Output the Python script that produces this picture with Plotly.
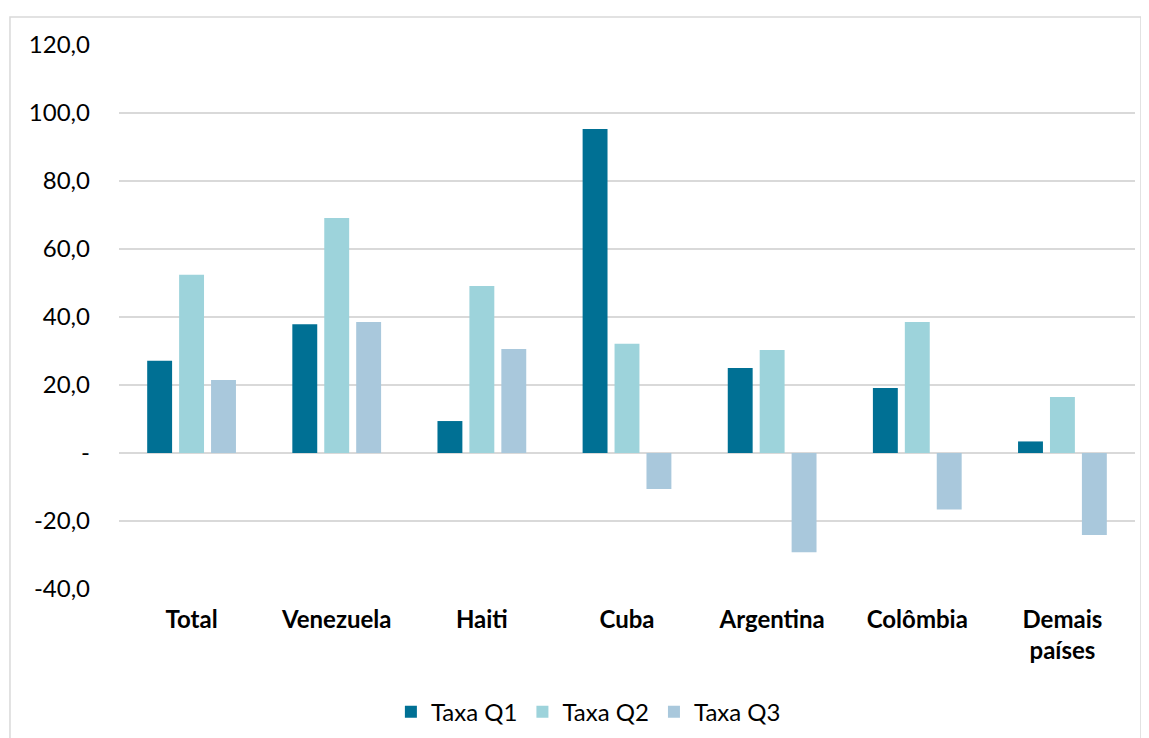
import plotly.graph_objects as go

categories = ["Total", "Venezuela", "Haiti", "Cuba", "Argentina", "Colômbia", "Demais<br>países"]
taxa_q1 = [27.1, 37.9, 9.4, 95.3, 25.0, 19.1, 3.4]
taxa_q2 = [52.4, 69.1, 49.1, 32.1, 30.3, 38.5, 16.5]
taxa_q3 = [21.5, 38.5, 30.6, -10.6, -29.2, -16.6, -24.1]
series_names = ["Taxa Q1", "Taxa Q2", "Taxa Q3"]
colors = ["#007094", "#9DD3DB", "#A9C8DC"]
tick_vals = [120, 100, 80, 60, 40, 20, 0, -20, -40]
tick_text = ["120,0", "100,0", "80,0", "60,0", "40,0", "20,0", "-", "-20,0", "-40,0"]

font_family = "Lato, 'Open Sans', sans-serif"

fig = go.Figure()
for name, vals, col in zip(series_names, [taxa_q1, taxa_q2, taxa_q3], colors):
    fig.add_trace(go.Bar(x=categories, y=vals, name=name, marker=dict(color=col, line=dict(width=0))))

# page body has an 8px margin, so plot area offsets compensate
fig.update_layout(
    width=1149, height=738,
    margin=dict(l=111, r=22, t=37, b=157, autoexpand=False),
    paper_bgcolor="white", plot_bgcolor="white",
    barmode="group", bargap=0.34, bargroupgap=0.22,
    font=dict(family=font_family, color="#000000", size=22),
    showlegend=True,
    legend=dict(orientation="h", x=0.462, xanchor="center", xref="paper",
                y=0.046, yanchor="middle", yref="container",
                font=dict(size=24), itemwidth=30, traceorder="normal"),
    xaxis=dict(showgrid=False, showline=False, ticks="", automargin=False,
               tickfont=dict(size=24, family=font_family, weight="bold"),
               ticklabelstandoff=14),
    yaxis=dict(range=[-40, 120], tickvals=tick_vals, ticktext=tick_text, showgrid=True,
               gridcolor="#D9D9D9", gridwidth=1.5, zeroline=True, zerolinecolor="#D9D9D9",
               zerolinewidth=1.5, showline=False, ticks="", tickfont=dict(size=24),
               ticklabelstandoff=28, automargin=False),
    shapes=[dict(type="rect", xref="paper", yref="paper", x0=-0.1073, x1=1.0059, y0=-0.3, y1=1.0515,
                 line=dict(color="#D9D9D9", width=1.5), fillcolor="rgba(0,0,0,0)", layer="below")],
)
fig.write_html("out.html")
